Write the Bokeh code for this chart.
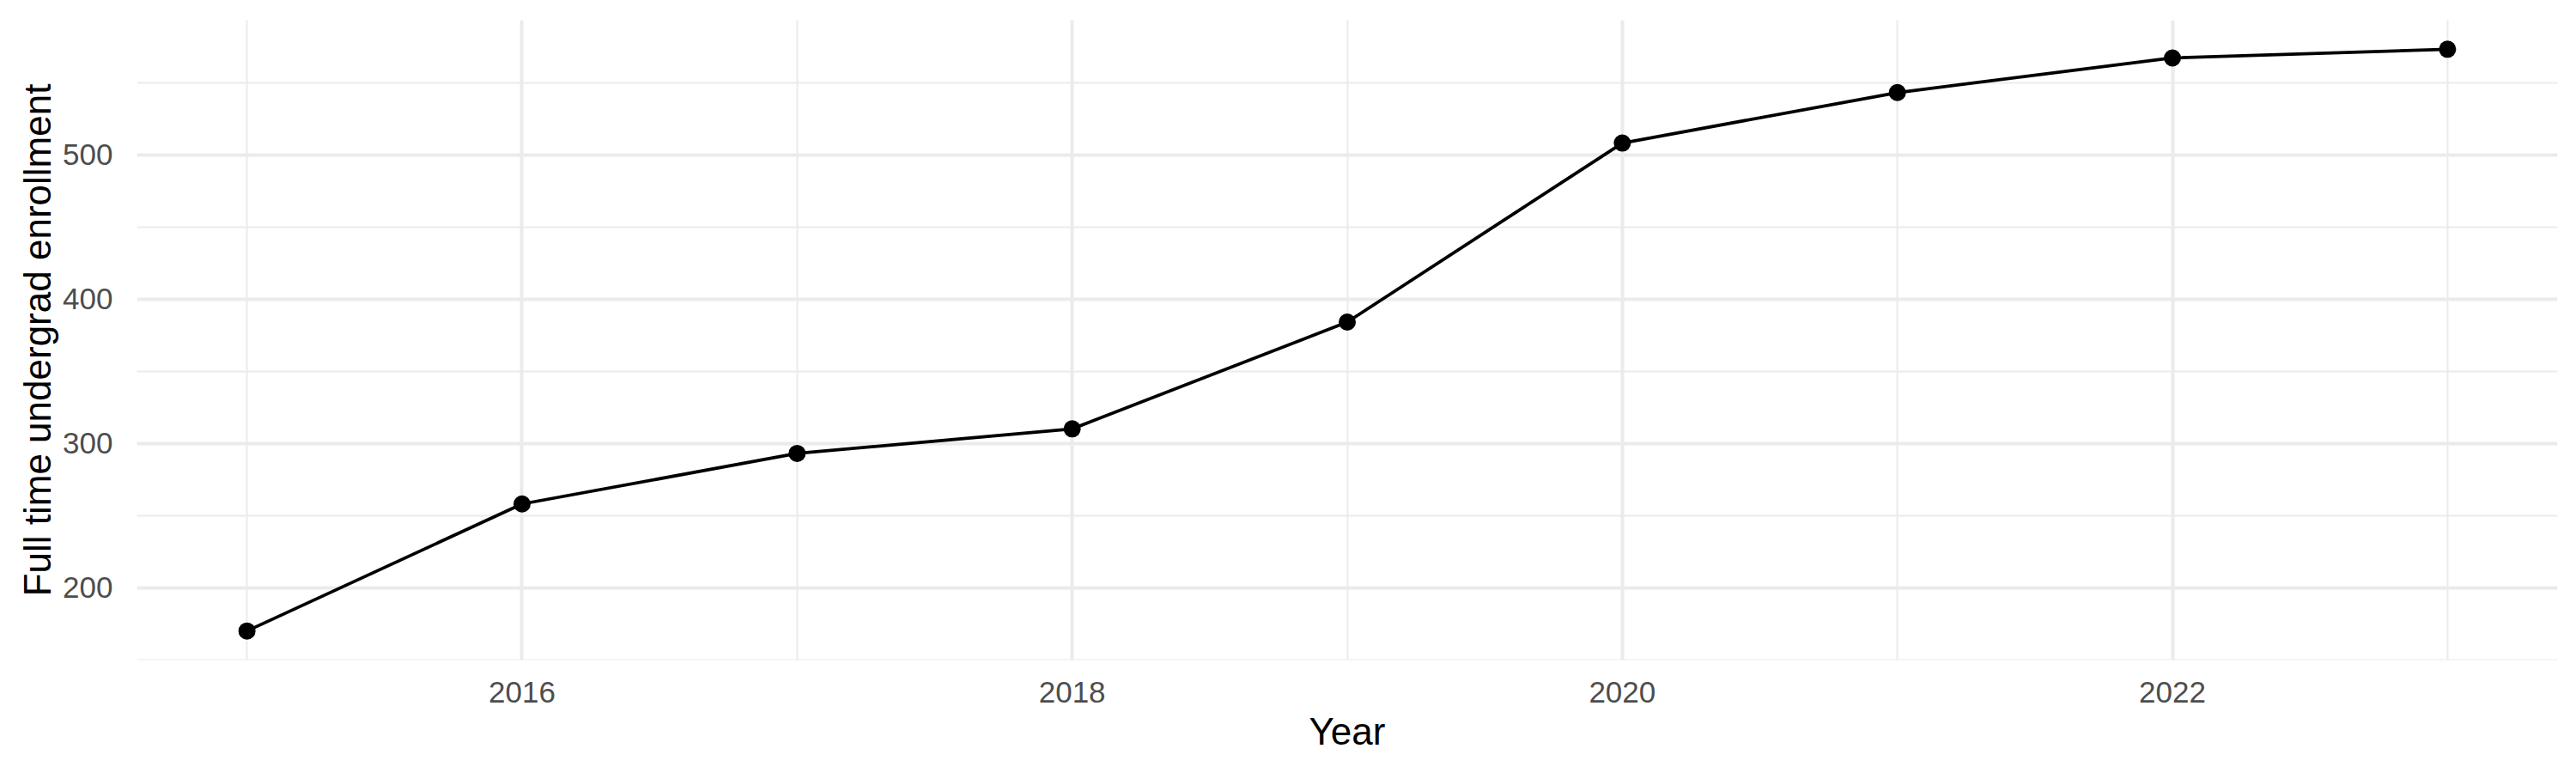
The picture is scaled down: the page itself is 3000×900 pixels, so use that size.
"""
Full time undergrad enrollment by year, line with points
"""

from bokeh.plotting import figure
from bokeh.models import ColumnDataSource, Range1d, FixedTicker
from bokeh.embed import file_html
from bokeh.resources import INLINE

# data
years = [2015, 2016, 2017, 2018, 2019, 2020, 2021, 2022, 2023]
enrollment = [170, 258, 293, 310, 384, 508, 543, 567, 573]

x_major = [2016, 2018, 2020, 2022]
x_minor = [2015, 2017, 2019, 2021, 2023]
y_major = [200, 300, 400, 500]
y_minor = [150, 250, 350, 450, 550]

src = ColumnDataSource(data=dict(year=years, n=enrollment))

# ggplot style 5% expansion on each side
xpad = (max(years) - min(years)) * 0.05
ypad = (max(enrollment) - min(enrollment)) * 0.05

p = figure(width=2984, height=884, output_backend="svg", toolbar_location=None,
           x_range=Range1d(min(years) - xpad, max(years) + xpad),
           y_range=Range1d(min(enrollment) - ypad, max(enrollment) + ypad),
           min_border_left=159, min_border_right=6,
           min_border_top=23, min_border_bottom=116)

p.outline_line_color = None
p.background_fill_color = "white"
p.border_fill_color = "white"

p.xaxis.ticker = FixedTicker(ticks=x_major, minor_ticks=x_minor)
p.yaxis.ticker = FixedTicker(ticks=y_major, minor_ticks=y_minor)

for g in (p.xgrid, p.ygrid):
    g.grid_line_color = "#EBEBEB"
    g.grid_line_width = 4
    g.minor_grid_line_color = "#EBEBEB"
    g.minor_grid_line_width = 2

for ax in (p.xaxis, p.yaxis):
    ax.axis_line_color = None
    ax.major_tick_line_color = None
    ax.minor_tick_line_color = None
    ax.major_label_text_font = "Liberation Sans"
    ax.major_label_text_font_size = "35px"
    ax.major_label_text_color = "#4D4D4D"
    ax.axis_label_text_font = "Liberation Sans"
    ax.axis_label_text_font_size = "44px"
    ax.axis_label_text_font_style = "normal"
    ax.axis_label_text_color = "black"

p.xaxis.axis_label = "Year"
p.yaxis.axis_label = "Full time undergrad enrollment"
p.xaxis.major_label_standoff = 19
p.xaxis.axis_label_standoff = 6
p.yaxis.major_label_standoff = 22
p.yaxis.axis_label_standoff = 2

p.line("year", "n", source=src, line_color="black", line_width=3.8)
p.scatter("year", "n", source=src, size=20, fill_color="black", line_color=None)

open("out.html", "w").write(file_html(p, INLINE))
